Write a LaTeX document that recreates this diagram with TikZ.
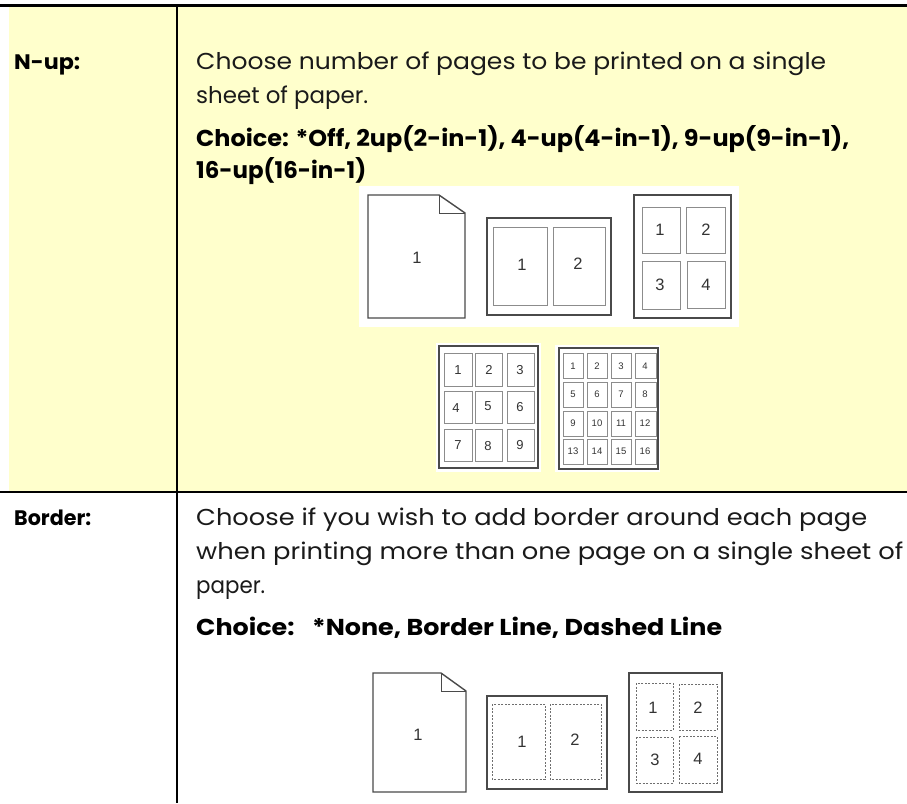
\documentclass[tikz,border=0pt]{standalone}
\usepackage{fontspec}
\usepackage{graphicx}
\setmainfont{Poppins}
\newfontfamily\numfont{Liberation Sans}
\definecolor{ylw}{HTML}{FFFFCC}
\definecolor{frm}{HTML}{4A4A4A}
\definecolor{cel}{HTML}{8C8C8C}
\definecolor{dsh}{HTML}{6E6E6E}
\definecolor{txt}{HTML}{1A1A1A}
\newcommand{\fitw}[2]{\resizebox{#1pt}{\height}{#2}}
\tikzset{
  body/.style={anchor=base west, inner sep=0pt, text=txt, font=\fontsize{23}{27}\selectfont},
  bodyb/.style={anchor=base west, inner sep=0pt, text=black, font=\fontsize{23}{27}\selectfont\bfseries},
  labb/.style={anchor=base west, inner sep=0pt, text=black, font=\fontsize{21}{25}\selectfont\bfseries},
  pframe/.style={draw=frm, line width=1.4pt, fill=white},
  pcell/.style={draw=cel, line width=1pt},
  dcell/.style={draw=dsh, line width=1pt, dash pattern=on 2pt off 1.5pt},
  num/.style={inner sep=0pt, text=black!80, font=\numfont\fontsize{16.5}{16.5}\selectfont},
  nums/.style={inner sep=0pt, text=black!80, font=\numfont\fontsize{13}{13}\selectfont},
  numt/.style={inner sep=0pt, text=black!80, font=\numfont\fontsize{9.5}{9.5}\selectfont},
  rule/.style={draw=black}
}
\begin{document}
\begin{tikzpicture}[x=1pt,y=-1pt]
\useasboundingbox (0,0) rectangle (907,803);
\fill[white] (0,0) rectangle (907,803);
\fill[ylw] (9,7) rectangle (907,491);
% table rules
\coordinate (tl) at (0,5.5);
\coordinate (tr) at (907,5.5);
\coordinate (ml) at (0,492);
\coordinate (mr) at (907,492);
\coordinate (vt) at (176.5,7);
\coordinate (vb) at (176.5,803);
\draw[rule, line width=3pt] (tl) -- (tr);
\draw[rule, line width=2pt] (ml) -- (mr);
\draw[rule, line width=2pt] (vt) -- (vb);
% texts row 1
\node[labb] (lab1) at (14,69) {\fitw{66}{N-up:}};
\node[body] (t1a) at (196,69) {\fitw{630}{Choose number of pages to be printed on a single}};
\node[body] (t1b) at (196,103) {\fitw{172}{sheet of paper.}};
\node[bodyb] (t1c) at (196,146) {\fitw{653}{Choice: *Off, 2up(2-in-1), 4-up(4-in-1), 9-up(9-in-1),}};
\node[bodyb] (t1d) at (196,178) {\fitw{170}{16-up(16-in-1)}};
% texts row 2
\node[labb] (lab2) at (14,525) {\fitw{77}{Border:}};
\node[body] (t2a) at (196,525) {\fitw{671}{Choose if you wish to add border around each page}};
\node[body] (t2b) at (196,559) {\fitw{707}{when printing more than one page on a single sheet of}};
\node[body] (t2c) at (196,593) {\fitw{69}{paper.}};
\node[bodyb] (t2d) at (196,635) {\fitw{526}{Choice:\hspace{16pt}*None, Border Line, Dashed Line}};
% ---------- top images
\fill[white] (359,186) rectangle (739,327);
% page 1
\draw[pframe] (368,195) -- (439,195) -- (465,213) -- (465,318) -- (368,318) -- cycle;
\draw[draw=frm, line width=1pt] (439,195) -- (439,213) -- (465,213);
\node[num] (a1) at (417,258) {1};
% 2-up
\draw[pframe] (487,218) rectangle (611,315);
\draw[pcell] (493,227) rectangle (547,305);
\draw[pcell] (553,227) rectangle (605,305);
\node[num] (b1) at (522,265) {1};
\node[num] (b2) at (578,264) {2};
% 4-up
\draw[pframe] (634,195) rectangle (731,318);
\draw[pcell] (642,207) rectangle (680,253);
\draw[pcell] (686,207) rectangle (725,253);
\draw[pcell] (642,261) rectangle (680,309);
\draw[pcell] (687,261) rectangle (725,308);
\node[num] (c1) at (660,230) {1};
\node[num] (c2) at (706,230) {2};
\node[num] (c3) at (660,285) {3};
\node[num] (c4) at (706,285) {4};
% 9-up
\fill[white] (436,343) rectangle (541,472);
\draw[pframe] (439,346) rectangle (538,468);
\foreach \cx/\cl in {444/472,475/502,507/534}{
  \foreach \ry/\rb in {353/386,391/423,429/461}{
    \draw[pcell] (\cx,\ry) rectangle (\cl,\rb);
  }
}
\node[nums] (d1) at (458,370) {1};
\node[nums] (d2) at (489,370) {2};
\node[nums] (d3) at (520,370) {3};
\node[nums] (d4) at (456,408) {4};
\node[nums] (d5) at (488,406) {5};
\node[nums] (d6) at (520,407) {6};
\node[nums] (d7) at (458,445) {7};
\node[nums] (d8) at (488,446) {8};
\node[nums] (d9) at (520,445) {9};
% 16-up
\fill[white] (555,345) rectangle (660,472);
\draw[pframe] (559,348) rectangle (658,469);
\foreach \cx/\cl in {563/583,587/607,611/631,635/656}{
  \foreach \ry/\rb in {353/378,382/407,411/436,439/464}{
    \draw[pcell] (\cx,\ry) rectangle (\cl,\rb);
  }
}
\node[numt] (e1) at (573,366) {1};
\node[numt] (e2) at (597,366) {2};
\node[numt] (e3) at (621,366) {3};
\node[numt] (e4) at (645,366) {4};
\node[numt] (e5) at (573,394) {5};
\node[numt] (e6) at (597,394) {6};
\node[numt] (e7) at (621,394) {7};
\node[numt] (e8) at (645,394) {8};
\node[numt] (e9) at (573,423) {9};
\node[numt] (e10) at (597,423) {10};
\node[numt] (e11) at (621,423) {11};
\node[numt] (e12) at (645,423) {12};
\node[numt] (e13) at (573,451) {13};
\node[numt] (e14) at (597,451) {14};
\node[numt] (e15) at (621,451) {15};
\node[numt] (e16) at (645,451) {16};
% ---------- bottom images
\draw[pframe] (373,673) -- (441,673) -- (466,691) -- (466,792) -- (373,792) -- cycle;
\draw[draw=frm, line width=1pt] (441,673) -- (441,691) -- (466,691);
\node[num] (f1) at (418,735) {1};
\draw[pframe] (487,696) rectangle (607,789);
\draw[dcell] (492,704) rectangle (545,779);
\draw[dcell] (550,704) rectangle (601,779);
\node[num] (g1) at (522,742) {1};
\node[num] (g2) at (575,740) {2};
\draw[pframe] (629,673) rectangle (722,792);
\draw[dcell] (636,683) rectangle (673,730);
\draw[dcell] (679,684) rectangle (717,730);
\draw[dcell] (636,737) rectangle (673,783);
\draw[dcell] (679,736) rectangle (717,783);
\node[num] (h1) at (653,708) {1};
\node[num] (h2) at (698,708) {2};
\node[num] (h3) at (655,760) {3};
\node[num] (h4) at (698,759) {4};
\end{tikzpicture}
\end{document}
